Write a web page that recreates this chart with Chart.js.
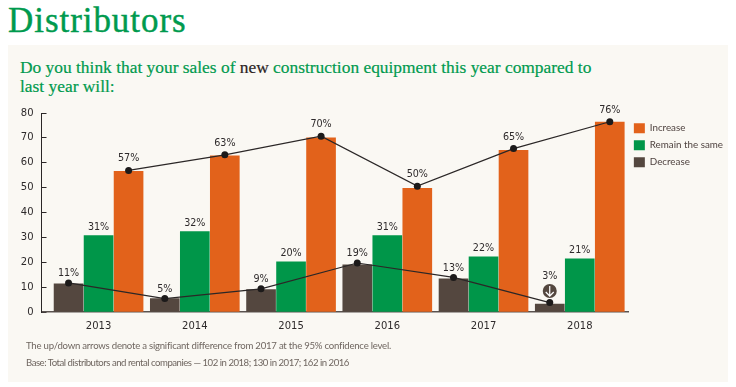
<!DOCTYPE html>
<html>
<head>
<meta charset="utf-8">
<script src="https://cdn.jsdelivr.net/npm/chart.js@4"></script>
<style>
html,body{margin:0;padding:0;background:#fff;overflow:hidden}
#page{position:relative;width:736px;height:387px}
#panel{position:absolute;left:8px;top:45px;width:720px;height:337px;background:#faf8f3}
#myChart{position:absolute;left:0;top:0}
h1{position:absolute;left:8px;top:1px;margin:0;font:400 35px/40px "Liberation Serif",serif;color:#009a4e;letter-spacing:.95px;-webkit-text-stroke:.4px #009a4e;white-space:nowrap}
h2{position:absolute;left:20px;top:58px;width:620px;margin:0;font:400 17.4px/19px "Liberation Serif",serif;color:#009a4e;-webkit-text-stroke:.2px #009a4e;white-space:nowrap}
h2 b{font-weight:400;color:#2a1f1f;-webkit-text-stroke:.2px #2a1f1f}
p{position:absolute;left:26px;margin:0;font:400 9.6px/12px Lato,sans-serif;color:#6f6660;white-space:nowrap}
</style>
</head>
<body>
<div id="page">
<h1>Distributors</h1>
<div id="panel"></div>
<h2>Do you think that your sales of <b>new</b> construction equipment this year compared to<br>last year will:</h2>
<canvas id="myChart" width="736" height="387"></canvas>
<p style="top:340px;letter-spacing:-.23px">The up/down arrows denote a significant difference from 2017 at the 95% confidence level.</p>
<p style="top:357px;letter-spacing:-.49px">Base: Total distributors and rental companies — 102 in 2018; 130 in 2017; 162 in 2016</p>
</div>
<script>
const years=["2013","2014","2015","2016","2017","2018"]
const yTicks=[0,10,20,30,40,50,60,70,80]
const decreaseBars=[11.3,5.4,9,19,13.3,3.2]
const remainBars=[30.7,32.3,20.2,30.7,22.2,21.4]
const increaseBars=[56.6,62.8,70,49.7,65,76.4]
const decreaseLine=[11.7,5.4,9.3,19.7,13.9,3.8]
const increaseLine=[56.9,63.2,70.7,50.6,65.7,76.5]
const decreaseLabels=["11%","5%","9%","19%","13%","3%"]
const remainLabels=["31%","32%","20%","31%","22%","21%"]
const increaseLabels=["57%","63%","70%","50%","65%","76%"]
const downArrows=[false,false,false,false,false,true]

const barSide=0.312   // distance of outer bars from the group centre, in x units
const orange="#e2621b"
const green="#009649"
const brown="#54473f"
const ink="#2e2a2b"

function bars(label,values,color){
  return {type:"bar",label:label,data:values.map((v,i)=>({x:i,y:v})),backgroundColor:color,
    barThickness:30,maxBarThickness:29,order:2}
}
function trend(label,values,side){
  return {type:"line",label:label,data:values.map((v,i)=>({x:i+side,y:v})),borderColor:"#2b2727",borderWidth:1.2,
    pointRadius:3.5,pointBackgroundColor:"#1c1a1a",pointBorderWidth:0,tension:0,order:1}
}

// percent labels and the significance arrow
const marks={
  id:"marks",
  afterLayout(chart){chart.legend.left-=2},
  afterDatasetsDraw(chart){
    const ctx=chart.ctx
    ctx.save()
    ctx.font='400 9.6px "DejaVu Sans"'
    ctx.fillStyle=ink
    ctx.textAlign="center"
    ctx.textBaseline="middle"
    chart.getDatasetMeta(3).data.forEach((p,i)=>{
      let up=downArrows[i]?26:9
      ctx.fillText(decreaseLabels[i],p.x,p.y-up)
      if(downArrows[i]){
        let cy=p.y-11.5
        ctx.fillStyle=brown
        ctx.beginPath();ctx.arc(p.x,cy,7,0,Math.PI*2);ctx.fill()
        ctx.strokeStyle="#fff";ctx.lineWidth=1.2
        ctx.beginPath();ctx.moveTo(p.x,cy-5);ctx.lineTo(p.x,cy+5)
        ctx.moveTo(p.x-4,cy+1);ctx.lineTo(p.x,cy+5);ctx.lineTo(p.x+4,cy+1);ctx.stroke()
        ctx.fillStyle=ink
      }
    })
    chart.getDatasetMeta(4).data.forEach((p,i)=>ctx.fillText(increaseLabels[i],p.x,p.y-11.5))
    chart.getDatasetMeta(1).data.forEach((b,i)=>ctx.fillText(remainLabels[i],b.x,b.y-8))
    ctx.restore()
  }
}

new Chart(document.getElementById("myChart"),{
  data:{datasets:[
    bars("Decrease",decreaseBars,brown),
    bars("Remain the same",remainBars,green),
    bars("Increase",increaseBars,orange),
    trend("Decrease trend",decreaseLine,-barSide),
    trend("Increase trend",increaseLine,barSide)
  ]},
  options:{
    responsive:false,
    animation:false,
    layout:{padding:{left:0,right:1,top:113,bottom:55}},
    plugins:{
      tooltip:{enabled:false},
      legend:{
        position:"right",
        align:"start",
        reverse:true,
        title:{display:true,text:"",padding:{top:2,bottom:0},font:{size:1}},
        labels:{
          boxWidth:11,boxHeight:10,padding:7,color:"#4f4340",
          font:{family:"Lato",size:9.8},
          filter:item=>item.datasetIndex<3
        }
      }
    },
    scales:{
      x:{
        type:"linear",
        offset:false,
        min:-0.593,
        max:5.51,
        afterBuildTicks(scale){scale.ticks=years.map((y,i)=>({value:i}))},
        grid:{display:false},
        border:{color:"#5a5350",width:1.5},
        ticks:{autoSkip:false,maxRotation:0,padding:0,color:ink,font:{family:"DejaVu Sans",size:10},
          callback:v=>years[v]}
      },
      y:{
        min:0,
        max:80,
        afterBuildTicks(scale){scale.ticks=yTicks.map(v=>({value:v}))},
        afterFit(scale){scale.width=41.5},
        grid:{drawOnChartArea:false,tickLength:-5,color:"#2b2727",tickWidth:1},
        border:{color:"#2b2727",width:1},
        ticks:{padding:13,color:ink,font:{family:"DejaVu Sans",size:10}}
      }
    }
  },
  plugins:[marks]
})
</script>
</body>
</html>
